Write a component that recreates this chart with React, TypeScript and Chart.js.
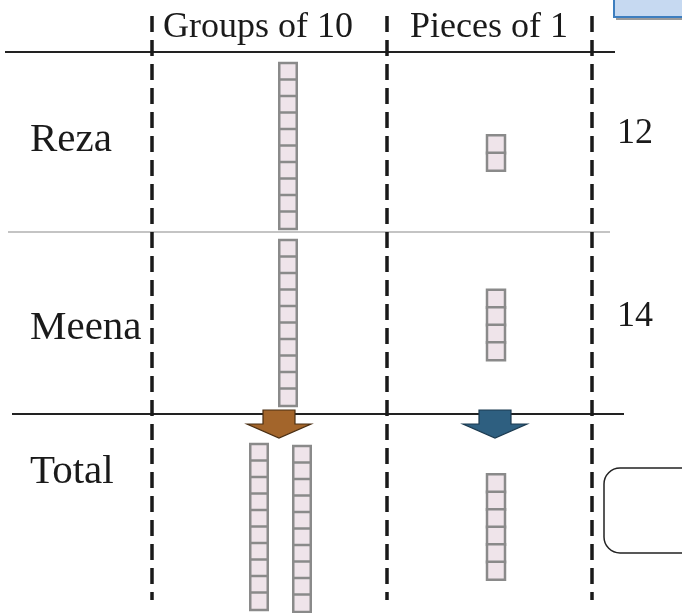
import React, { useEffect, useRef } from "react";
import { Chart, registerables } from "chart.js";

Chart.register(...registerables);

// ---- data ----
const rowNames = ["Reza", "Meena", "Total"];
const tensCount = [1, 1, 2];
const onesCount = [2, 4, 6];
const totalLabels = ["12", "14", ""];
const columnHeaders = ["Groups of 10", "Pieces of 1"];
const unitsPerGroup = 10;

// ---- layout (diagram units = pixels of a 682x613 sheet) ----
const W = 682;
const H = 613;
const rowRodCenterY = [146, 323, 527];
const rowOnesCenterY = [153, 325, 527];
const tensCenterX = [288, 288, 280.5];
const rodGap = 43;
const onesX = 496;
const rodPitch = 16.5;
const onesPitch = 17.5;
const headerX = [258, 489];
const rowLabelBaseline = [151, 339, 483];
const totalBaseline = [143, 326, 0];
const dashedX = [152, 387, 592];
const hLines = [
  { y: 52, x0: 5, x1: 615, w: 2, c: "#222" },
  { y: 232, x0: 8, x1: 610, w: 1.2, c: "#8a8a8a" },
  { y: 414, x0: 12, x1: 624, w: 2, c: "#222" },
];

function buildTens() {
  const pts: { x: number; y: number }[] = [];
  tensCount.forEach((n, r) => {
    for (let k = 0; k < n; k++) {
      const x = tensCenterX[r] + (k - (n - 1) / 2) * rodGap;
      const yc = rowRodCenterY[r] + k * 2;
      for (let c = 0; c < unitsPerGroup; c++) {
        pts.push({ x, y: yc + (c - (unitsPerGroup - 1) / 2) * rodPitch });
      }
    }
  });
  return pts;
}

function buildOnes() {
  const pts: { x: number; y: number }[] = [];
  onesCount.forEach((n, r) => {
    for (let c = 0; c < n; c++) {
      pts.push({ x: onesX, y: rowOnesCenterY[r] + (c - (n - 1) / 2) * onesPitch });
    }
  });
  return pts;
}

const decorPlugin = {
  id: "decor",
  beforeDatasetsDraw(chart: any) {
    const ctx: CanvasRenderingContext2D = chart.ctx;
    const xs = chart.scales.x;
    const ys = chart.scales.y;
    const px = (v: number) => xs.getPixelForValue(v);
    const py = (v: number) => ys.getPixelForValue(v);
    ctx.save();

    // blue box top-right
    ctx.fillStyle = "#9a9a9a";
    ctx.fillRect(px(616), py(2), px(700) - px(616), py(20) - py(2));
    ctx.fillStyle = "#c6d9f1";
    ctx.fillRect(px(614), py(-5), px(700) - px(614), py(17) - py(-5));
    ctx.strokeStyle = "#3d7ebf";
    ctx.lineWidth = 2;
    ctx.strokeRect(px(614), py(-5), px(700) - px(614), py(17) - py(-5));

    // horizontal lines
    hLines.forEach((l) => {
      ctx.strokeStyle = l.c;
      ctx.lineWidth = l.w;
      ctx.beginPath();
      ctx.moveTo(px(l.x0), py(l.y));
      ctx.lineTo(px(l.x1), py(l.y));
      ctx.stroke();
    });

    // arrows
    const arrow = (cx: number, fill: string, stroke: string) => {
      ctx.fillStyle = fill;
      ctx.strokeStyle = stroke;
      ctx.lineWidth = 1.2;
      ctx.beginPath();
      ctx.moveTo(px(cx - 16), py(410));
      ctx.lineTo(px(cx + 16), py(410));
      ctx.lineTo(px(cx + 16), py(424));
      ctx.lineTo(px(cx + 32), py(424));
      ctx.lineTo(px(cx), py(438));
      ctx.lineTo(px(cx - 32), py(424));
      ctx.lineTo(px(cx - 16), py(424));
      ctx.closePath();
      ctx.fill();
      ctx.stroke();
    };
    arrow(279, "#a3652b", "#4a2e12");
    arrow(495, "#2e5f80", "#1b3a50");

    // dashed vertical lines
    ctx.strokeStyle = "#1a1a1a";
    ctx.lineWidth = 3.5;
    ctx.setLineDash([16, 8]);
    dashedX.forEach((x) => {
      ctx.beginPath();
      ctx.moveTo(px(x), py(16));
      ctx.lineTo(px(x), py(600));
      ctx.stroke();
    });
    ctx.setLineDash([]);

    // answer box
    ctx.strokeStyle = "#222";
    ctx.lineWidth = 1.5;
    ctx.beginPath();
    ctx.roundRect(px(604), py(468), px(720) - px(604), py(553) - py(468), 16);
    ctx.stroke();

    // texts
    ctx.fillStyle = "#1a1a1a";
    ctx.textBaseline = "alphabetic";
    ctx.font = "36px 'Liberation Serif'";
    ctx.textAlign = "center";
    columnHeaders.forEach((t, i) => ctx.fillText(t, px(headerX[i]), py(37)));
    ctx.font = "41px 'Liberation Serif'";
    ctx.textAlign = "left";
    rowNames.forEach((t, i) => ctx.fillText(t, px(30), py(rowLabelBaseline[i])));
    ctx.font = "36px 'Liberation Serif'";
    totalLabels.forEach((t, i) => {
      if (t) ctx.fillText(t, px(617), py(totalBaseline[i]));
    });
    ctx.restore();
  },
};

export default function App() {
  const ref = useRef<HTMLCanvasElement | null>(null);
  useEffect(() => {
    document.body.style.margin = "0";
    const canvas = ref.current!;
    const chart = new Chart(canvas, {
      type: "scatter",
      data: {
        datasets: [
          {
            label: "Groups of 10",
            data: buildTens(),
            pointStyle: "rect",
            pointRadius: 17.5 / Math.SQRT2,
            pointBackgroundColor: "#efe4ea",
            pointBorderColor: "#8a8a8a",
            pointBorderWidth: 2.5,
          },
          {
            label: "Pieces of 1",
            data: buildOnes(),
            pointStyle: "rect",
            pointRadius: 18 / Math.SQRT2,
            pointBackgroundColor: "#efe4ea",
            pointBorderColor: "#8a8a8a",
            pointBorderWidth: 2.5,
          },
        ],
      },
      options: {
        responsive: false,
        animation: false,
        events: [],
        layout: { padding: 0, autoPadding: false },
        scales: {
          x: { type: "linear", min: 0, max: W, display: false },
          y: { type: "linear", min: 0, max: H, reverse: true, display: false },
        },
        plugins: { legend: { display: false }, tooltip: { enabled: false } },
      },
      plugins: [decorPlugin],
    });
    return () => chart.destroy();
  }, []);
  return (
    <div style={{ width: W, height: H, background: "#fff" }}>
      <canvas ref={ref} width={W} height={H} style={{ display: "block", width: W, height: H }} />
    </div>
  );
}
